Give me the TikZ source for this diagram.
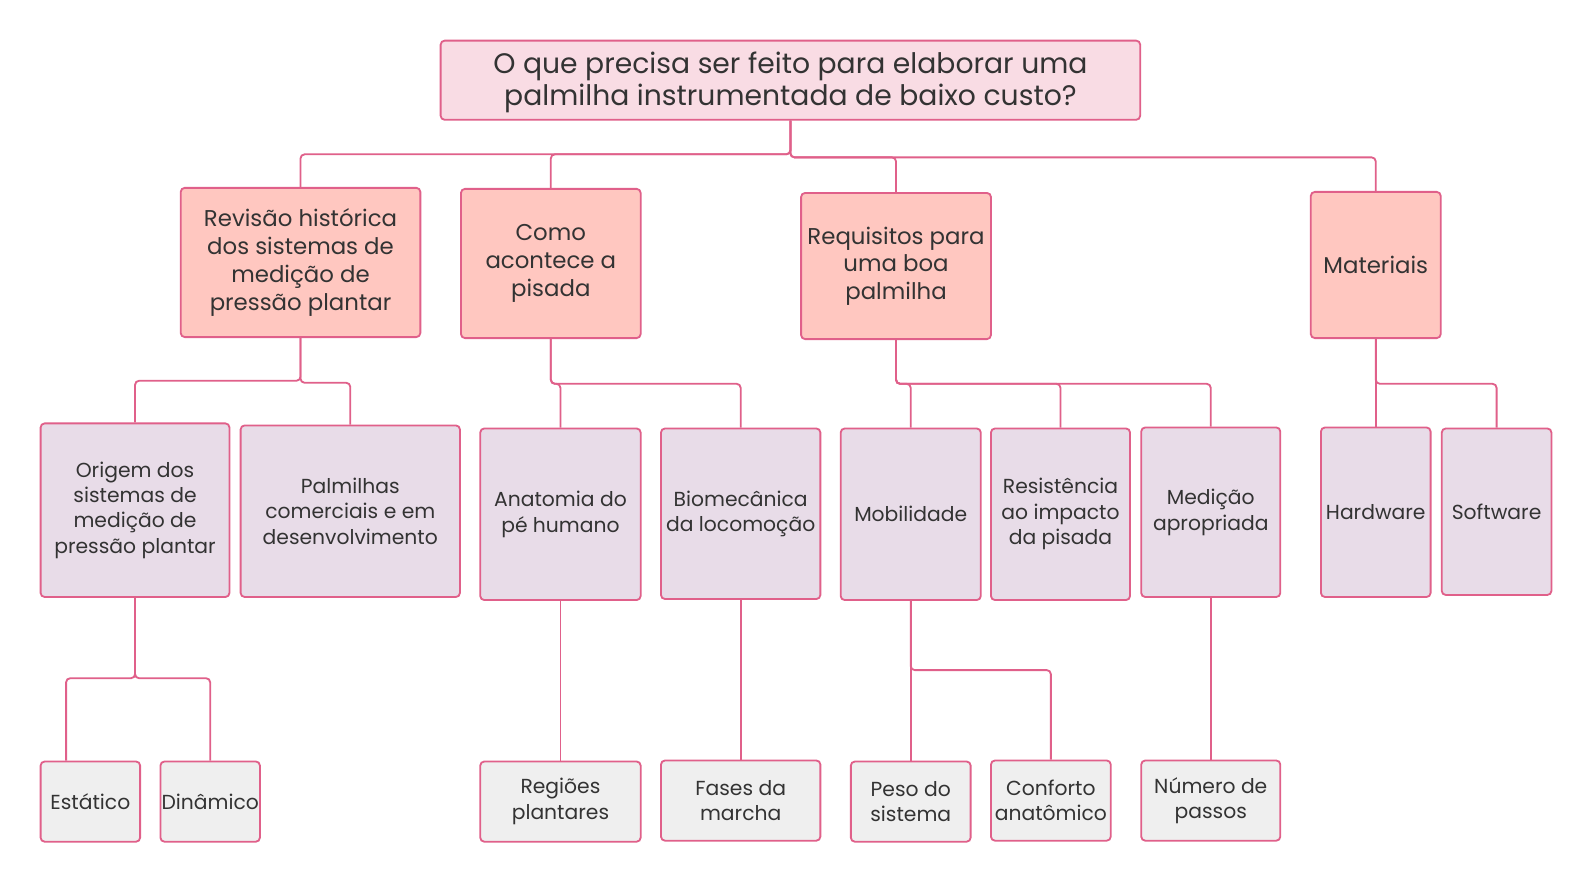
\documentclass[tikz,border=0pt]{standalone}
\usepackage{fontspec}
\setmainfont{Poppins}
\definecolor{bord}{HTML}{E0608A}
\definecolor{rootfill}{HTML}{F9DCE4}
\definecolor{lvlone}{HTML}{FFC7C0}
\definecolor{lvltwo}{HTML}{E8DCE8}
\definecolor{lvlthree}{HTML}{EFEFEF}
\definecolor{txt}{HTML}{333333}
\begin{document}
\begin{tikzpicture}[x=1pt,y=-1pt,
  box/.style={draw=bord, line width=1.8pt, rounded corners=4pt, inner sep=0pt, align=center, text=txt},
  rootbox/.style={box, fill=rootfill, font=\fontsize{27.8}{32}\selectfont},
  onebox/.style={box, fill=lvlone, font=\fontsize{22.5}{27.3}\selectfont},
  twobox/.style={box, fill=lvltwo, font=\fontsize{20}{25}\selectfont},
  threebox/.style={box, fill=lvlthree, font=\fontsize{20}{25}\selectfont},
  wh/.style 2 args={minimum width=#1pt, minimum height=#2pt},
  link/.style={draw=bord, line width=1.8pt, rounded corners=4pt}
]
\useasboundingbox[fill=white] (0,0) rectangle (1567,867.7);

% root
\node[rootbox, wh={689}{78}] (root) at (778.5,79) {\rule{0pt}{26pt}O que precisa ser feito para elaborar uma\\palmilha instrumentada de baixo custo?};

% level 1
\node[onebox, wh={236}{147}] (A) at (296,258.5) {Revisão histórica\\dos sistemas de\\medição de\\pressão plantar};
\node[onebox, wh={177}{147}] (B) at (542.5,259.5) {Como\\acontece a\\pisada};
\node[onebox, wh={187}{144}] (C) at (882.5,262) {Requisitos para\\uma boa\\palmilha};
\node[onebox, wh={128}{144}] (D) at (1355,261) {Materiais};

% level 2
\node[twobox, wh={186}{171}] (A1) at (133,502.5) {Origem dos\\sistemas de\\medição de\\pressão plantar};
\node[twobox, wh={216}{169}] (A2) at (345,503.5) {Palmilhas\\comerciais e em\\desenvolvimento};
\node[twobox, wh={158}{169}] (B1) at (552,506.5) {Anatomia do\\pé humano};
\node[twobox, wh={157}{168}] (B2) at (729.5,506) {Biomecânica\\da locomoção};
\node[twobox, wh={138}{169}] (C1) at (897,506.5) {Mobilidade};
\node[twobox, wh={137}{169}] (C2) at (1044.5,506.5) {Resistência\\ao impacto\\da pisada};
\node[twobox, wh={137}{167}] (C3) at (1192.5,504.5) {Medição\\apropriada};
\node[twobox, wh={108}{167}] (D1) at (1355,504.5) {Hardware};
\node[twobox, wh={108}{164}] (D2) at (1474,504) {Software};

% level 3
\node[threebox, wh={98}{79}] (A11) at (89,789.5) {Estático};
\node[threebox, wh={98}{79}] (A12) at (207,789.5) {Dinâmico};
\node[threebox, wh={158}{79}] (B11) at (552,789.5) {Regiões\\plantares};
\node[threebox, wh={157}{79}] (B21) at (729.5,788.5) {Fases da\\marcha};
\node[threebox, wh={118}{79}] (C11) at (897,789.5) {Peso do\\sistema};
\node[threebox, wh={118}{79}] (C12) at (1035,788.5) {Conforto\\anatômico};
\node[threebox, wh={137}{79}] (C31) at (1192.5,788.5) {Número de\\passos};

% junction levels
\coordinate (jr1) at (0,152);
\coordinate (jr2) at (0,155);
\coordinate (ja1) at (0,375);
\coordinate (ja2) at (0,377);
\coordinate (jb) at (0,378);
\coordinate (jc) at (0,378);
\coordinate (jd) at (0,378);
\coordinate (jaa) at (0,668);
\coordinate (jcc) at (0,660);

% connectors
\draw[link] (root.south) -- (root.south |- jr1) -| (A.north);
\draw[link] (root.south) -- (root.south |- jr1) -| (B.north);
\draw[link] (root.south) -- (root.south |- jr2) -| (C.north);
\draw[link] (root.south) -- (root.south |- jr2) -| (D.north);

\draw[link] (A.south) -- (A.south |- ja1) -| (A1.north);
\draw[link] (A.south) -- (A.south |- ja2) -| (A2.north);
\draw[link] (B.south) -- (B.south |- jb) -| (B1.north);
\draw[link] (B.south) -- (B.south |- jb) -| (B2.north);
\draw[link] (C.south) -- (C.south |- jc) -| (C1.north);
\draw[link] (C.south) -- (C.south |- jc) -| (C2.north);
\draw[link] (C.south) -- (C.south |- jc) -| (C3.north);
\draw[link] (D.south) -- (D1.north);
\draw[link] (D.south) -- (D.south |- jd) -| (D2.north);

\draw[link] (A1.south) -- (A1.south |- jaa) -| ([xshift=26pt]A11.north west);
\draw[link] (A1.south) -- (A1.south |- jaa) -| (A12.north);
\draw[link] (B1.south) -- (B11.north);
\draw[link] (B2.south) -- (B21.north);
\draw[link] (C1.south) -- (C11.north);
\draw[link] (C1.south) -- (C1.south |- jcc) -| (C12.north);
\draw[link] (C3.south) -- (C31.north);
\end{tikzpicture}
\end{document}
